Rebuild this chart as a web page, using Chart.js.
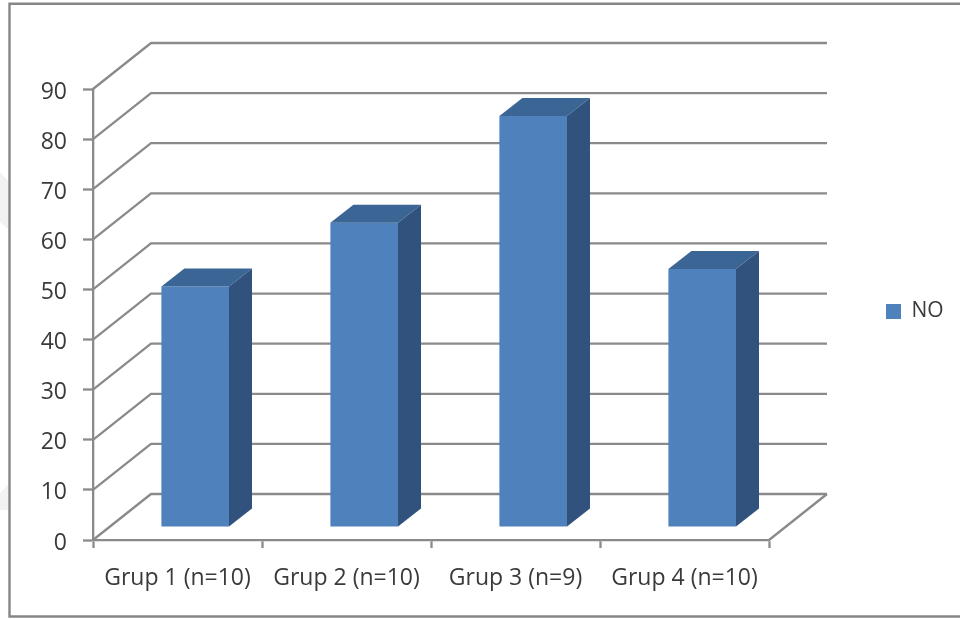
<!DOCTYPE html>
<html>
<head>
<meta charset="utf-8">
<title>Grup NO</title>
<style>
  html, body { margin: 0; padding: 0; background: #fff; }
  canvas { display: block; }
</style>
<script src="https://cdn.jsdelivr.net/npm/chart.js@4/dist/chart.umd.min.js"></script>
</head>
<body>
<canvas id="chart" width="960" height="619"></canvas>
<script>
const categories = ["Grup 1 (n=10)", "Grup 2 (n=10)", "Grup 3 (n=9)", "Grup 4 (n=10)"];
const seriesName = "NO";
const noValues = [48, 60.7, 82, 51.5];
const axisMin = 0;
const axisMax = 90;
const axisStep = 10;

const FRONT = "#4F81BD";
const TOP_FACE = "#3B6595";
const SIDE_FACE = "#30527C";
const LINE = "#8A8A8A";
const TEXT = "#3A3A3A";
const FONT = "'Open Sans'";
const FONT_SIZE = 23;

// Box perspective: wall depth, where bars stand on the floor, and the depth of each bar.
const WALL = { dx: 58, dy: -46 };
const BAR_SHIFT = { dx: 17.7, dy: -13 };
const BAR_DEPTH = { dx: 23, dy: -18 };

function poly(ctx, pts, fill) {
  ctx.beginPath();
  pts.forEach((p, i) => i ? ctx.lineTo(p[0], p[1]) : ctx.moveTo(p[0], p[1]));
  ctx.closePath();
  ctx.fillStyle = fill;
  ctx.fill();
}

// Outer frame: left, top and bottom rules running off the right edge,
// with two pale slivers of backdrop showing outside the left rule.
const framePlugin = {
  id: "frame",
  beforeDraw(chart) {
    const { ctx, width } = chart;
    ctx.save();
    poly(ctx, [[0, 172], [9, 182], [9, 230], [0, 222]], "#F2F2F2");
    poly(ctx, [[9, 484], [0, 493], [0, 510], [9, 510]], "#F2F2F2");
    ctx.strokeStyle = "#868686";
    ctx.lineWidth = 2.4;
    ctx.beginPath();
    ctx.moveTo(width, 3.7);
    ctx.lineTo(9.5, 3.7);
    ctx.lineTo(9.5, 616.5);
    ctx.lineTo(width, 616.5);
    ctx.stroke();
    ctx.restore();
  }
};

// Back wall, side wall and floor, all derived from the axis scales.
const wallPlugin = {
  id: "walls",
  beforeDatasetsDraw(chart) {
    const { ctx, scales: { x, y } } = chart;
    const left = x.left, right = x.right;
    ctx.save();
    ctx.strokeStyle = LINE;
    ctx.lineWidth = 2.3;
    ctx.lineCap = "butt";
    y.ticks.forEach(t => {
      const py = y.getPixelForValue(t.value);
      ctx.beginPath();
      ctx.moveTo(left, py);
      ctx.lineTo(left + WALL.dx, py + WALL.dy);
      ctx.lineTo(right + WALL.dx, py + WALL.dy);
      ctx.stroke();
    });
    const floor = y.getPixelForValue(axisMin);
    ctx.beginPath();
    ctx.moveTo(right, floor);
    ctx.lineTo(right + WALL.dx, floor + WALL.dy);
    ctx.stroke();
    ctx.restore();
  }
};

// Bars are moved onto the floor, then given a top and a side face.
const depthPlugin = {
  id: "barDepth",
  beforeDatasetsDraw(chart) {
    chart.ctx.save();
    chart.ctx.translate(BAR_SHIFT.dx, BAR_SHIFT.dy);
  },
  afterDatasetsDraw(chart) {
    const { ctx } = chart;
    chart.getDatasetMeta(0).data.forEach(bar => {
      const l = bar.x - bar.width / 2;
      const r = bar.x + bar.width / 2;
      const t = bar.y;
      const b = bar.base;
      const { dx, dy } = BAR_DEPTH;
      poly(ctx, [[l, t], [l + dx, t + dy], [r + dx, t + dy], [r, t]], TOP_FACE);
      poly(ctx, [[r, t], [r + dx, t + dy], [r + dx, b + dy], [r, b]], SIDE_FACE);
    });
    ctx.restore();
  }
};

// Legend reserves a fixed strip beside the plot and sits at its outer end.
const legendPlugin = {
  id: "legendPlace",
  beforeLayout(chart) {
    const legend = chart.legend;
    if (!legend.fixedFit) {
      const fit = legend.fit;
      legend.fit = function () {
        fit.call(this);
        this.width = 191;
      };
      legend.fixedFit = true;
    }
  },
  afterLayout(chart) {
    const legend = chart.legend;
    legend.left = 876;
    legend.top = 2;
    legend.bottom = chart.height + 2;
  }
};

new Chart(document.getElementById("chart"), {
  type: "bar",
  data: {
    labels: categories,
    datasets: [{
      label: seriesName,
      data: noValues,
      backgroundColor: FRONT,
      borderWidth: 0,
      barPercentage: 1,
      categoryPercentage: 0.4
    }]
  },
  plugins: [framePlugin, wallPlugin, depthPlugin, legendPlugin],
  options: {
    responsive: false,
    animation: false,
    devicePixelRatio: 1,
    layout: { padding: { top: 89, left: 0, right: 0, bottom: 0 } },
    plugins: {
      title: { display: false },
      tooltip: { enabled: false },
      legend: {
        display: true,
        position: "right",
        labels: {
          boxWidth: 15,
          boxHeight: 15,
          padding: 10,
          color: TEXT,
          font: { family: FONT, size: 21 }
        }
      }
    },
    scales: {
      x: {
        afterFit(s) { s.height = 79; },
        grid: {
          drawOnChartArea: false,
          drawTicks: true,
          tickLength: 8,
          tickColor: LINE,
          tickWidth: 2.3,
          offset: true
        },
        border: { display: true, color: LINE, width: 2.3 },
        ticks: {
          color: TEXT,
          maxRotation: 0,
          autoSkip: false,
          padding: 17,
          font: { family: FONT, size: FONT_SIZE }
        }
      },
      y: {
        min: axisMin,
        max: axisMax,
        afterFit(s) { s.width = 93; },
        grid: {
          drawOnChartArea: false,
          drawTicks: true,
          tickLength: 10,
          tickColor: LINE,
          tickWidth: 2.3
        },
        border: { display: true, color: LINE, width: 2.3 },
        ticks: {
          stepSize: axisStep,
          color: TEXT,
          padding: 16,
          labelOffset: 3,
          font: { family: FONT, size: FONT_SIZE }
        }
      }
    }
  }
});
</script>
</body>
</html>
